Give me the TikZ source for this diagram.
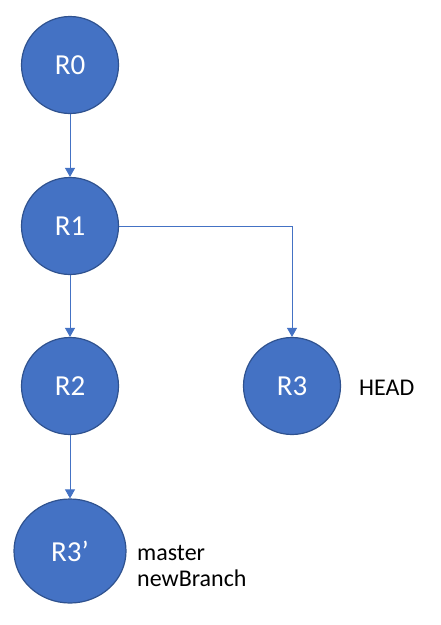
\documentclass[tikz,border=0pt]{standalone}
\usepackage{fontspec}
\setmainfont{Carlito}
\usetikzlibrary{arrows.meta}
\usetikzlibrary{shapes.geometric}
\usetikzlibrary{positioning}
\definecolor{nodeblue}{HTML}{4472C4}
\definecolor{rimblue}{HTML}{2F528F}
\tikzset{
  commit/.style={circle,draw=rimblue,line width=1.2pt,fill=nodeblue,text=white,
    minimum size=97pt,inner sep=0pt,font=\fontsize{29}{35}\selectfont},
  tag/.style={inner sep=0pt,align=left,font=\fontsize{24}{26}\selectfont},
  link/.style={draw=nodeblue,line width=0.9pt,-{Triangle[width=10pt,length=9pt]}}
}
\begin{document}
\begin{tikzpicture}[x=1pt,y=-1pt]
\useasboundingbox (0,0) rectangle (441,625);
\node[commit] (r0) at (70,65) {R0};
\node[commit] (r1) at (70,226) {R1};
\node[commit] (r2) at (70,386) {R2};
\node[commit] (r3) at (292,386) {R3};
\node[commit,ellipse,minimum width=112pt,minimum height=104pt] (r3p) at (70,551) {R3’};
\coordinate (bend) at (r3.north |- r1.east);
\node[tag,anchor=west] (head) at (359,388) {HEAD};
\node[tag,anchor=west] (branches) at (137,566) {master\\newBranch};
\draw[link] (r0) -- (r1);
\draw[link] (r1) -- (r2);
\draw[link] (r1.east) -- (bend) -- (r3.north);
\draw[link] (r2) -- (r3p);
\end{tikzpicture}
\end{document}
